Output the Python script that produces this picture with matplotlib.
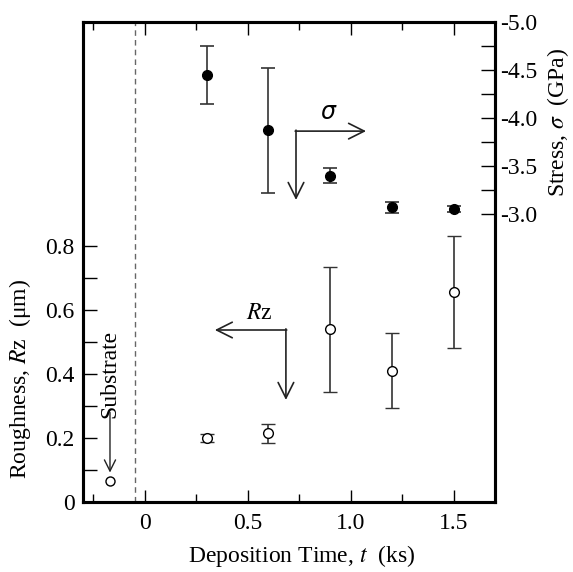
import numpy as np
from matplotlib import pyplot as plt
from matplotlib.ticker import FixedLocator

plt.rcParams['font.family'] = ['Liberation Serif', 'DejaVu Serif']
plt.rcParams['mathtext.fontset'] = 'stix'

# 表面粗さ Rz (μm)
t_rz = [0.3, 0.6, 0.9, 1.2, 1.5]
rz = [0.20, 0.215, 0.54, 0.41, 0.657]
rz_err = [0.012, 0.03, 0.195, 0.117, 0.175]
# 基板
t_sub = -0.17
rz_sub = 0.065

# 残留応力 (GPa)
t_st = [0.3, 0.6, 0.9, 1.2, 1.5]
stress = [-4.45, -3.87, -3.40, -3.07, -3.05]
stress_err = [0.30, 0.65, 0.08, 0.06, 0.03]

fs = 17

fig = plt.figure(figsize=(5.73, 5.72), dpi=100)
ax = fig.add_axes([83 / 573, 70 / 572, 412 / 573, 480 / 572])
ax2 = ax.twinx()

ecol = '#333333'
ax.errorbar(t_rz, rz, yerr=rz_err, fmt='o', mfc='white', mec='black', mew=1.0,
            ms=7, ecolor=ecol, elinewidth=1.2, capsize=5, capthick=1.2, zorder=3)
ax.plot([t_sub], [rz_sub], 'o', mfc='white', mec='black', mew=1.0, ms=6.5, zorder=3)
ax2.errorbar(t_st, stress, yerr=stress_err, fmt='o', mfc='black', mec='black',
             ms=7, ecolor=ecol, elinewidth=1.2, capsize=5, capthick=1.2, zorder=3)

# 基板の位置
ax.axvline(-0.05, color='#666666', ls=(0, (4, 3)), lw=1.0)

ax.set_xlim(-0.3, 1.7)
ax.set_ylim(0, 1.5)
ax2.set_ylim(0, -5.0)

ax.xaxis.set_major_locator(FixedLocator([0, 0.5, 1.0, 1.5]))
ax.xaxis.set_minor_locator(FixedLocator([-0.25, 0.25, 0.75, 1.25]))
ax.set_xticklabels(['0', '0.5', '1.0', '1.5'])
ax.yaxis.set_major_locator(FixedLocator([0, 0.2, 0.4, 0.6, 0.8]))
ax.yaxis.set_minor_locator(FixedLocator([0.1, 0.3, 0.5, 0.7]))
ax.set_yticklabels(['0', '0.2', '0.4', '0.6', '0.8'])
ax2.yaxis.set_major_locator(FixedLocator([-3.0, -3.5, -4.0, -4.5, -5.0]))
ax2.yaxis.set_minor_locator(FixedLocator([-3.25, -3.75, -4.25, -4.75]))
ax2.set_yticklabels(['-3.0', '-3.5', '-4.0', '-4.5', '-5.0'])

ax.tick_params(which='both', direction='in', top=True, right=False, labelsize=fs, width=1.0)
ax.tick_params(axis='x', which='major', length=9, pad=8)
ax.tick_params(axis='x', which='minor', length=6)
ax.tick_params(axis='y', which='both', length=10, pad=6)
ax2.tick_params(which='both', direction='in', labelsize=fs, width=1.0, length=10, pad=4)

for a in (ax, ax2):
    for s in a.spines.values():
        s.set_linewidth(2.2)

ax.set_xlabel('Deposition Time, $t$  (ks)', fontsize=fs)
ax.xaxis.set_label_coords(0.53, -0.085)
ax.set_ylabel('Roughness, $R$z  (μm)', fontsize=fs)
ax.yaxis.set_label_coords(-0.122, 0.256)
ax2.set_ylabel('Stress, $\\sigma$  (GPa)', fontsize=fs)
ax2.yaxis.set_label_coords(1.122, 0.79)

# 矢印
arr = dict(arrowstyle='->', color='#222222', lw=1.2, mutation_scale=28, shrinkA=0, shrinkB=0)
ax.annotate('', xy=(1.074, 1.159), xytext=(0.73, 1.159), arrowprops=arr)
ax.annotate('', xy=(0.734, 0.944), xytext=(0.734, 1.162), arrowprops=arr)
ax.text(0.89, 1.22, 'σ', fontsize=17, ha='center', va='center', family='DejaVu Sans', style='italic')
ax.annotate('', xy=(0.34, 0.5375), xytext=(0.689, 0.5375), arrowprops=arr)
ax.annotate('', xy=(0.685, 0.319), xytext=(0.685, 0.541), arrowprops=arr)
ax.text(0.556, 0.59, '$R$z', fontsize=fs, ha='center', va='center')

ax.annotate('', xy=(-0.169, 0.092), xytext=(-0.169, 0.28),
            arrowprops=dict(arrowstyle='->', color='#222222', lw=1.0, mutation_scale=20, shrinkA=0, shrinkB=0))
ax.text(-0.169, 0.40, 'Substrate', rotation=90, fontsize=fs, ha='center', va='center')

fig.savefig('out.png', dpi=100)
